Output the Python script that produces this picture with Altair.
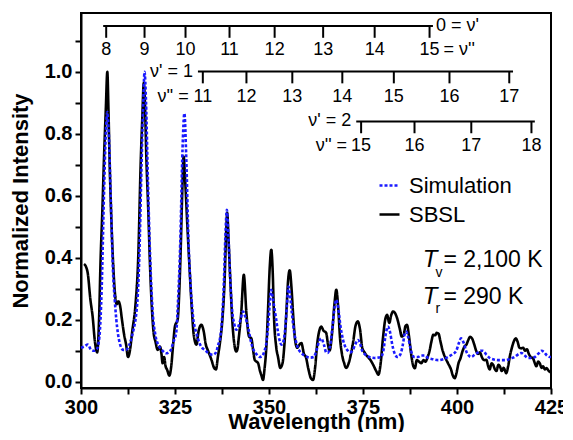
import altair as alt
import pandas as pd

FONT = "Liberation Sans"

# ---------------- data ----------------
sbsl_x = [300.8, 301.3, 301.8, 302.5, 303.1, 303.7, 304.3, 304.8, 305.2, 305.7, 306.1, 306.6, 307.0, 307.3,
          307.6, 308.0, 308.5, 309.0, 309.5, 309.9, 310.4, 310.9, 311.5, 312.0, 312.5, 313.0, 313.6, 314.5,
          315.2, 315.9, 316.3, 316.7, 317.0, 317.4, 317.9, 318.3, 318.8, 319.3, 319.8, 320.4, 321.0, 321.4,
          321.7, 322.1, 322.5, 322.9, 323.5, 324.0, 324.5, 325.0, 325.7, 326.1, 326.5, 326.9, 327.3, 327.7,
          328.3, 328.9, 329.4, 330.0, 330.7, 331.3, 332.0, 332.6, 333.2, 333.8, 334.7, 335.4, 335.9, 336.4,
          337.0, 337.6, 338.2, 338.6, 338.9, 339.2, 339.7, 340.4, 341.3, 341.6, 342.0, 342.6, 343.3, 344.0,
          344.7, 345.3, 345.8, 346.2, 347.1, 347.6, 348.0, 348.4, 348.8, 349.3, 349.7, 350.2, 350.6, 351.0,
          351.3, 351.9, 352.4, 353.0, 353.6, 354.1, 354.6, 355.1, 355.5, 356.0, 356.4, 357.0, 357.5, 358.1,
          358.6, 359.3, 359.8, 360.5, 361.2, 361.7, 362.3, 362.8, 363.5, 363.9, 364.5, 365.2, 365.7, 366.1,
          366.8, 367.4, 367.9, 368.4, 368.9, 369.4, 370.0, 370.5, 371.2, 371.8, 372.4, 373.0, 373.6, 374.2,
          374.8, 375.4, 376.3, 377.0, 377.7, 378.5, 379.1, 379.7, 380.3, 380.9, 381.4, 382.0, 382.5, 383.0,
          383.6, 384.2, 384.8, 385.3, 385.8, 386.3, 386.7, 387.2, 387.8, 388.4, 388.8, 389.3, 389.9, 390.5,
          391.1, 391.6, 392.2, 392.7, 393.2, 393.7, 394.2, 394.6, 395.1, 395.6, 396.2, 396.8, 397.6, 398.4,
          398.9, 399.4, 399.9, 400.4, 400.9, 401.5, 402.0, 402.5, 403.0, 403.5, 404.0, 404.6, 405.1, 405.6,
          406.1, 406.6, 407.2, 407.8, 408.3, 408.7, 409.2, 409.6, 410.1, 410.5, 411.0, 411.4, 411.9, 412.4,
          413.1, 413.6, 414.1, 414.6, 415.1, 415.6, 416.1, 416.6, 417.1, 417.6, 418.1, 418.6, 419.1, 419.6,
          420.2, 420.7, 421.1, 421.6, 422.0, 422.5, 422.9, 423.4, 423.8, 424.4, 425.0]
sbsl_y = [0.38, 0.372, 0.35, 0.265, 0.21, 0.13, 0.095, 0.2, 0.39, 0.56, 0.716, 0.88, 1.0, 0.88,
          0.716, 0.55, 0.394, 0.29, 0.25, 0.26, 0.245, 0.2, 0.15, 0.12, 0.08, 0.1, 0.16, 0.25,
          0.394, 0.716, 0.85, 0.965, 0.9, 0.716, 0.55, 0.394, 0.25, 0.16, 0.13, 0.103, 0.114, 0.09,
          0.06, 0.08, 0.05, 0.039, 0.02, 0.05, 0.12, 0.18, 0.2, 0.28, 0.42, 0.6, 0.727, 0.65,
          0.5, 0.36, 0.25, 0.15, 0.12, 0.165, 0.184, 0.165, 0.12, 0.1, 0.071, 0.045, 0.04, 0.08,
          0.13, 0.2, 0.33, 0.48, 0.545, 0.47, 0.33, 0.168, 0.098, 0.105, 0.146, 0.22, 0.345, 0.22,
          0.146, 0.14, 0.1, 0.071, 0.06, 0.035, 0.02, 0.006, 0.04, 0.114, 0.22, 0.37, 0.426, 0.35,
          0.22, 0.114, 0.08, 0.045, 0.06, 0.12, 0.22, 0.33, 0.36, 0.3, 0.22, 0.13, 0.11, 0.12,
          0.125, 0.09, 0.08, 0.04, 0.01, 0.006, 0.05, 0.12, 0.17, 0.178, 0.165, 0.158, 0.12, 0.10,
          0.16, 0.25, 0.297, 0.24, 0.14, 0.09, 0.06, 0.045, 0.06, 0.09, 0.13, 0.18, 0.195, 0.17,
          0.11, 0.095, 0.08, 0.07, 0.055, 0.035, 0.023, 0.06, 0.14, 0.2, 0.216, 0.19, 0.215, 0.227,
          0.22, 0.2, 0.17, 0.146, 0.15, 0.18, 0.184, 0.15, 0.09, 0.05, 0.044, 0.07, 0.065, 0.06,
          0.07, 0.065, 0.08, 0.10, 0.13, 0.152, 0.15, 0.158, 0.155, 0.13, 0.10, 0.08, 0.06, 0.04,
          0.02, 0.012, 0.03, 0.06, 0.075, 0.1, 0.114, 0.12, 0.135, 0.145, 0.14, 0.12, 0.10, 0.09,
          0.095, 0.08, 0.07, 0.071, 0.05, 0.04, 0.06, 0.055, 0.04, 0.035, 0.055, 0.05, 0.035, 0.045,
          0.028, 0.05, 0.085, 0.11, 0.13, 0.14, 0.13, 0.11, 0.108, 0.11, 0.1, 0.105, 0.09, 0.08,
          0.076, 0.06, 0.05, 0.065, 0.06, 0.045, 0.05, 0.04, 0.044, 0.035, 0.03]

sim_x = [300.0, 300.9, 301.8, 302.7, 303.5, 304.2, 304.9, 305.5, 306.1, 306.6, 307.0, 307.4, 307.9, 308.5,
         309.0, 309.4, 310.2, 311.2, 312.0, 312.7, 313.3, 314.0, 314.6, 315.1, 315.5, 316.1, 316.6, 316.9,
         317.3, 317.8, 318.4, 319.1, 319.8, 320.8, 321.7, 322.6, 323.3, 323.9, 324.6, 325.3, 325.8, 326.4,
         327.0, 327.5, 328.0, 328.6, 329.2, 329.8, 330.7, 331.5, 332.2, 332.9, 334.2, 335.1, 335.9, 336.5,
         336.9, 337.5, 338.0, 338.4, 338.8, 339.2, 339.7, 340.2, 340.7, 341.3, 341.9, 342.4, 343.1, 343.7,
         344.4, 345.3, 346.0, 346.6, 347.5, 348.2, 348.8, 349.3, 349.9, 350.3, 350.6, 351.0, 351.8, 352.4,
         352.8, 353.3, 353.7, 354.3, 354.8, 355.2, 355.6, 356.1, 356.7, 357.4, 358.1, 358.6, 359.4, 360.2,
         361.0, 361.9, 362.6, 363.3, 363.9, 364.6, 365.2, 365.6, 366.3, 366.9, 367.5, 367.9, 368.4, 369.0,
         369.7, 370.4, 371.0, 371.5, 372.2, 372.9, 373.7, 374.3, 374.8, 375.4, 376.3, 377.2, 378.1, 379.0,
         379.8, 380.4, 381.0, 381.6, 382.2, 382.7, 383.3, 384.2, 385.0, 385.6, 386.1, 386.5, 387.0, 387.6,
         388.2, 388.7, 389.6, 390.5, 391.4, 392.3, 393.6, 395.0, 396.3, 397.6, 398.7, 399.8, 400.5, 401.1,
         401.8, 402.4, 403.1, 403.8, 404.7, 405.6, 406.3, 406.9, 407.8, 408.7, 409.8, 410.9, 412.0, 413.1,
         414.2, 415.3, 416.2, 417.1, 418.0, 418.9, 419.8, 420.7, 421.6, 422.5, 423.2, 423.9, 424.7, 425.0]
sim_y = [0.11, 0.114, 0.12, 0.103, 0.1, 0.105, 0.146, 0.3, 0.6, 0.8, 0.87, 0.8, 0.6, 0.36,
         0.26, 0.2, 0.13, 0.103, 0.103, 0.115, 0.135, 0.17, 0.21, 0.28, 0.4, 0.7, 0.92, 1.0,
         0.9, 0.65, 0.4, 0.22, 0.15, 0.114, 0.1, 0.092, 0.095, 0.103, 0.13, 0.157, 0.26, 0.45,
         0.75, 0.866, 0.72, 0.45, 0.3, 0.21, 0.157, 0.125, 0.11, 0.103, 0.09, 0.087, 0.095, 0.12,
         0.135, 0.2, 0.32, 0.47, 0.555, 0.47, 0.33, 0.23, 0.19, 0.168, 0.18, 0.2, 0.227, 0.21,
         0.178, 0.125, 0.1, 0.09, 0.08, 0.083, 0.1, 0.125, 0.2, 0.27, 0.297, 0.27, 0.21, 0.16,
         0.135, 0.12, 0.125, 0.17, 0.25, 0.307, 0.28, 0.22, 0.16, 0.12, 0.1, 0.093, 0.085, 0.08,
         0.078, 0.08, 0.1, 0.13, 0.14, 0.12, 0.095, 0.093, 0.12, 0.18, 0.245, 0.265, 0.24, 0.18,
         0.135, 0.11, 0.1, 0.095, 0.1, 0.12, 0.135, 0.12, 0.1, 0.09, 0.082, 0.078, 0.077, 0.078,
         0.08, 0.1, 0.15, 0.178, 0.16, 0.125, 0.095, 0.08, 0.09, 0.12, 0.155, 0.162, 0.145, 0.11,
         0.085, 0.08, 0.08, 0.085, 0.085, 0.077, 0.073, 0.07, 0.073, 0.08, 0.088, 0.10, 0.125, 0.14,
         0.125, 0.10, 0.085, 0.08, 0.088, 0.095, 0.1, 0.10, 0.088, 0.077, 0.072, 0.07, 0.07, 0.07,
         0.075, 0.08, 0.088, 0.093, 0.085, 0.077, 0.077, 0.08, 0.09, 0.10, 0.095, 0.085, 0.08, 0.08]

series_names = ["Simulation", "SBSL"]
series_colors = ["#1a1aff", "#000000"]

# vibrational progressions (band-head wavelengths, nm)
prog0_ticks = [306.7, 316.9, 327.8, 339.5, 351.5, 364.4, 378.1, 392.7]
prog0_labels = ["8", "9", "10", "11", "12", "13", "14", "15"]
prog1_ticks = [332.4, 344.0, 356.2, 369.5, 383.2, 398.0, 413.9]
prog1_labels = ["11", "12", "13", "14", "15", "16", "17"]
prog2_ticks = [374.5, 388.7, 403.8, 419.8]
prog2_labels = ["15", "16", "17", "18"]

x_ticks = [300 + 12.5 * i for i in range(11)]
y_ticks = [round(0.1 * i, 1) for i in range(12)]

# ---------------- chart ----------------
W, H = 470, 375
xscale = alt.Scale(domain=[300, 425], nice=False, zero=False)
yscale = alt.Scale(domain=[-0.02, 1.19], nice=False, zero=False)

xaxis = alt.Axis(values=x_ticks, labelExpr="datum.value % 25 == 0 ? datum.label : ''", format="d",
                 title="Wavelength (nm)", grid=False, labelFlush=False)
yaxis = alt.Axis(values=y_ticks, labelExpr="round(datum.value * 10) % 2 == 0 ? datum.label : ''",
                 format=".1f", title="Normalized Intensity", grid=False, labelFlush=False)


def X(f="wl"):
    return alt.X(f"{f}:Q", scale=xscale, axis=xaxis, title="Wavelength (nm)")


def Y(f="I"):
    return alt.Y(f"{f}:Q", scale=yscale, axis=yaxis, title="Normalized Intensity")


sbsl = pd.DataFrame({"wl": sbsl_x, "I": sbsl_y, "series": "SBSL"})
sim = pd.DataFrame({"wl": sim_x, "I": sim_y, "series": "Simulation"})

color = alt.Color("series:N", scale=alt.Scale(domain=series_names, range=series_colors), title=None)
dash = alt.StrokeDash("series:N", scale=alt.Scale(domain=series_names, range=[[3, 2], [1, 0]]), title=None)

sbsl_line = alt.Chart(sbsl).mark_line(strokeWidth=2.6, strokeJoin="round", interpolate="monotone").encode(
    x=X(), y=Y(), color=color, strokeDash=dash)
sim_line = alt.Chart(sim).mark_line(strokeWidth=2.6, interpolate="monotone").encode(
    x=X(), y=Y(), color=color, strokeDash=dash)

layers = [sbsl_line, sim_line]

ANN = 18
progs = [
    (prog0_ticks, prog0_labels, 305.9, 393.6, 1.148, 1.071),
    (prog1_ticks, prog1_labels, 331.1, 414.9, 1.001, 0.920),
    (prog2_ticks, prog2_labels, 373.2, 420.7, 0.840, 0.762),
]
drop = 0.038
for ticks, labels, xs, xe, ly, ty in progs:
    hl = pd.DataFrame({"wl": [xs], "wl2": [xe], "I": [ly]})
    layers.append(alt.Chart(hl).mark_rule(strokeWidth=2, color="black").encode(
        x=X(), x2="wl2:Q", y=Y()))
    tk = pd.DataFrame({"wl": ticks, "I": [ly] * len(ticks), "I2": [ly - drop] * len(ticks)})
    layers.append(alt.Chart(tk).mark_rule(strokeWidth=2, color="black").encode(
        x=X(), y=Y(), y2="I2:Q"))
    lb = pd.DataFrame({"wl": ticks, "I": [ty] * len(ticks), "txt": labels})
    layers.append(alt.Chart(lb).mark_text(font=FONT, fontSize=ANN, baseline="middle",
                                          align="center", color="black").encode(
        x=X(), y=Y(), text="txt:N"))

side = pd.DataFrame({
    "wl": [393.6, 331.1, 373.2],
    "I": [1.148, 1.001, 0.840],
    "txt": ["0 = ν'", "ν' = 1", "ν' = 2"],
})
layers.append(alt.Chart(side.iloc[[0]]).mark_text(font=FONT, fontSize=ANN, align="left",
                                                  baseline="middle", dx=3, color="black").encode(
    x=X(), y=Y(), text="txt:N"))
layers.append(alt.Chart(side.iloc[[1, 2]]).mark_text(font=FONT, fontSize=ANN, align="right",
                                                     baseline="middle", dx=-5, color="black").encode(
    x=X(), y=Y(), text="txt:N"))
lower = pd.DataFrame({"wl": [prog1_ticks[0], prog2_ticks[0]], "I": [0.920, 0.762], "txt": ["ν'' =", "ν'' ="]})
layers.append(alt.Chart(lower).mark_text(font=FONT, fontSize=ANN, align="right",
                                         baseline="middle", dx=-14, color="black").encode(
    x=X(), y=Y(), text="txt:N"))
upper = pd.DataFrame({"wl": [prog0_ticks[-1]], "I": [1.071], "txt": ["= ν''"]})
layers.append(alt.Chart(upper).mark_text(font=FONT, fontSize=ANN, align="left",
                                         baseline="middle", dx=14, color="black").encode(
    x=X(), y=Y(), text="txt:N"))

# temperatures
tT = pd.DataFrame({"wl": [390.9, 390.9], "I": [0.392, 0.274], "txt": ["T", "T"]})
tS = pd.DataFrame({"wl": [394.3, 394.3], "I": [0.350, 0.236], "txt": ["v", "r"]})
tV = pd.DataFrame({"wl": [396.4, 396.4], "I": [0.392, 0.274], "txt": ["= 2,100 K", "= 290 K"]})
layers.append(alt.Chart(tT).mark_text(font=FONT, fontSize=24, fontStyle="italic", align="left",
                                      baseline="middle", color="black").encode(x=X(), y=Y(), text="txt:N"))
layers.append(alt.Chart(tS).mark_text(font=FONT, fontSize=14, align="left",
                                      baseline="middle", color="black").encode(x=X(), y=Y(), text="txt:N"))
layers.append(alt.Chart(tV).mark_text(font=FONT, fontSize=23, align="left",
                                      baseline="middle", color="black").encode(x=X(), y=Y(), text="txt:N"))

chart = alt.layer(*layers).properties(
    width=W, height=H,
    autosize=alt.AutoSizeParams(type="none"),
    padding={"left": 73, "top": 5, "right": 12, "bottom": 44},
).configure_view(
    stroke="black", strokeWidth=2
).configure_axis(
    domainColor="black", domainWidth=2, tickColor="black", tickWidth=2, tickSize=6,
    labelFont=FONT, labelFontSize=20, labelFontWeight="bold", labelColor="black", labelPadding=3,
    titleFont=FONT, titleFontSize=22, titleFontWeight="bold", titleColor="black",
).configure_axisX(titlePadding=-6, labelPadding=3).configure_axisY(titlePadding=12).configure_legend(
    orient="none", legendX=297, legendY=161, labelFont=FONT, labelFontSize=22, labelColor="black",
    symbolType="stroke", symbolSize=400, symbolStrokeWidth=2.6, labelOffset=8, rowPadding=6,
    padding=0,
)

chart.save("out.html", embed_options={"renderer": "svg", "actions": False})
